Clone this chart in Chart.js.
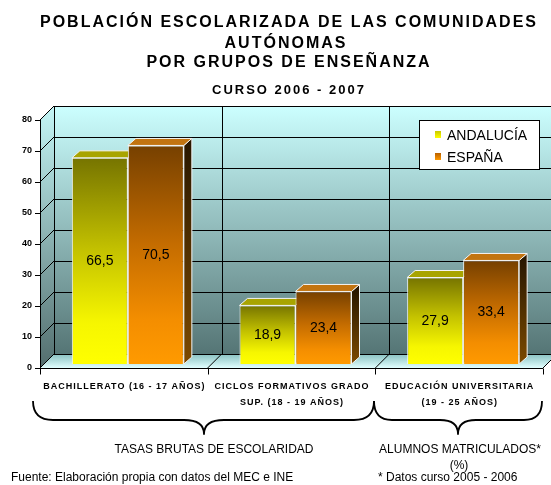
<!DOCTYPE html>
<html>
<head>
<meta charset="utf-8">
<script src="https://cdn.jsdelivr.net/npm/chart.js@4/dist/chart.umd.min.js"></script>
<style>
  html, body { margin: 0; padding: 0; background: #ffffff; }
  #wrap { position: relative; width: 551px; height: 485px; }
</style>
</head>
<body>
<div id="wrap"><canvas id="c"></canvas></div>
<script>
// ---- data ----
const categories = [
  ["BACHILLERATO (16 - 17 AÑOS)"],
  ["CICLOS FORMATIVOS GRADO", "SUP. (18 - 19 AÑOS)"],
  ["EDUCACIÓN UNIVERSITARIA", "(19 - 25 AÑOS)"]
];
const seriesNames = ["ANDALUCÍA", "ESPAÑA"];
const andalucia = [66.5, 18.9, 27.9];
const espana = [70.5, 23.4, 33.4];
const yTicks = [0, 10, 20, 30, 40, 50, 60, 70, 80];
const titleLines = ["POBLACIÓN ESCOLARIZADA DE LAS COMUNIDADES", "AUTÓNOMAS", "POR GRUPOS DE ENSEÑANZA"];
const subtitle = "CURSO 2006 - 2007";
const groupLabelLeft = "TASAS BRUTAS DE ESCOLARIDAD";
const groupLabelRight = ["ALUMNOS MATRICULADOS*", "(%)"];
const sourceNote = "Fuente: Elaboración propia con datos del MEC e INE";
const dateNote = "* Datos curso 2005 - 2006";

// ---- styling ----
const FONT = '"Liberation Sans", Arial, sans-serif';
const FRONT = { dx: -4, dy: 4 };
const BACK = { dx: 10, dy: -10 };
const BAR3D = { dx: 8, dy: -7 };
const seriesStyle = [
  { stops: [[0, '#767400'], [0.45, '#c4c200'], [0.8, '#f6f600'], [1, '#ffff00']],
    topFace: '#a8a400', side: ['#3a3800', '#8a8800'], key: ['#c8c800', '#ffff00'] },
  { stops: [[0, '#764000'], [0.45, '#c46c00'], [0.8, '#f48e00'], [1, '#ff9a00']],
    topFace: '#c27410', side: ['#2a1800', '#7c4a00'], key: ['#b86000', '#ff9900'] }
];

function fmt(v) { return v.toFixed(1).replace('.', ','); }

function barGradient(si) {
  return function (c) {
    const chart = c.chart;
    if (!chart.chartArea || c.raw === undefined) return seriesStyle[si].stops[2][1];
    const ys = chart.scales.y;
    const top = ys.getPixelForValue(c.raw), bot = ys.getPixelForValue(0);
    const g = chart.ctx.createLinearGradient(0, top, 0, bot);
    seriesStyle[si].stops.forEach(s => g.addColorStop(s[0], s[1]));
    return g;
  };
}

function line(ctx, x1, y1, x2, y2) {
  ctx.beginPath(); ctx.moveTo(x1, y1); ctx.lineTo(x2, y2); ctx.stroke();
}

function drawBrace(ctx, x0, x1, xm, yTop, yMid, yTip, r) {
  ctx.beginPath();
  ctx.moveTo(x0, yTop);
  ctx.quadraticCurveTo(x0, yMid, x0 + r, yMid);
  ctx.lineTo(xm - r, yMid);
  ctx.quadraticCurveTo(xm, yMid, xm, yTip);
  ctx.quadraticCurveTo(xm, yMid, xm + r, yMid);
  ctx.lineTo(x1 - r, yMid);
  ctx.quadraticCurveTo(x1, yMid, x1, yTop);
  ctx.stroke();
}

const scenePlugin = {
  id: 'scene',
  beforeDatasetsDraw(chart) {
    const { ctx, chartArea: a, scales: { x, y } } = chart;
    const vMax = yTicks[yTicks.length - 1];
    const fy = v => y.getPixelForValue(v) + FRONT.dy;
    const by = v => y.getPixelForValue(v) + BACK.dy;
    const fL = a.left + FRONT.dx, fR = a.right + FRONT.dx;
    const bL = a.left + BACK.dx, bR = a.right + BACK.dx;
    const n = categories.length;
    const catW = x.getPixelForValue(1) - x.getPixelForValue(0);
    const bounds = [];
    for (let k = 0; k <= n; k++) bounds.push(x.getPixelForValue(0) - catW / 2 + k * catW);

    ctx.save();
    // back wall
    let g = ctx.createLinearGradient(0, by(vMax), 0, by(0));
    g.addColorStop(0, '#ccffff'); g.addColorStop(1, '#557575');
    ctx.fillStyle = g;
    ctx.fillRect(bL, by(vMax), bR - bL, by(0) - by(vMax));
    // left wall
    g = ctx.createLinearGradient(0, by(vMax), 0, fy(0));
    g.addColorStop(0, '#c4f6f6'); g.addColorStop(1, '#536e6e');
    ctx.fillStyle = g;
    ctx.beginPath();
    ctx.moveTo(fL, fy(vMax)); ctx.lineTo(bL, by(vMax)); ctx.lineTo(bL, by(0)); ctx.lineTo(fL, fy(0));
    ctx.closePath(); ctx.fill();
    // floor
    g = ctx.createLinearGradient(0, by(0), 0, fy(0));
    g.addColorStop(0, '#88c0c0'); g.addColorStop(1, '#e2ffff');
    ctx.fillStyle = g;
    ctx.beginPath();
    ctx.moveTo(fL, fy(0)); ctx.lineTo(bL, by(0)); ctx.lineTo(bR, by(0)); ctx.lineTo(fR, fy(0));
    ctx.closePath(); ctx.fill();

    // grid
    ctx.strokeStyle = '#000'; ctx.lineWidth = 1;
    yTicks.forEach(v => {
      const yb = Math.round(by(v)) + 0.5;
      line(ctx, bL, yb, bR, yb);
      line(ctx, fL, fy(v), bL, by(v));
    });
    bounds.forEach(bx => {
      const xb = Math.round(bx + BACK.dx) + 0.5;
      line(ctx, xb, by(vMax), xb, by(0));
    });
    bounds.forEach((bx, k) => { if (k > 0) line(ctx, bx + FRONT.dx, fy(0), bx + BACK.dx, by(0)); });

    // front axes
    const fx = Math.round(fL) + 0.5, fyz = Math.round(fy(0)) + 0.5;
    line(ctx, fx, fy(vMax), fx, fyz);
    line(ctx, fL, fyz, fR, fyz);
    yTicks.forEach(v => { const t = Math.round(fy(v)) + 0.5; line(ctx, fL - 5, t, fL, t); });
    bounds.forEach(bx => { const t = Math.round(bx + FRONT.dx) + 0.5; line(ctx, t, fyz, t, fyz + 6); });

    // 3D faces of bars (drawn behind the bar fronts)
    chart.data.datasets.forEach((ds, si) => {
      const meta = chart.getDatasetMeta(si);
      meta.data.forEach(el => {
        const p = el.getProps(['x', 'y', 'base', 'width'], true);
        const l = p.x - p.width / 2, r = p.x + p.width / 2;
        ctx.strokeStyle = '#f4f4f4'; ctx.lineWidth = 1;
        const sg = ctx.createLinearGradient(0, p.y, 0, p.base);
        sg.addColorStop(0, seriesStyle[si].side[0]); sg.addColorStop(1, seriesStyle[si].side[1]);
        ctx.fillStyle = sg;
        ctx.beginPath();
        ctx.moveTo(r, p.y); ctx.lineTo(r + BAR3D.dx, p.y + BAR3D.dy);
        ctx.lineTo(r + BAR3D.dx, p.base + BAR3D.dy); ctx.lineTo(r, p.base);
        ctx.closePath(); ctx.fill(); ctx.stroke();
        ctx.fillStyle = seriesStyle[si].topFace;
        ctx.beginPath();
        ctx.moveTo(l, p.y); ctx.lineTo(l + BAR3D.dx, p.y + BAR3D.dy);
        ctx.lineTo(r + BAR3D.dx, p.y + BAR3D.dy); ctx.lineTo(r, p.y);
        ctx.closePath(); ctx.fill(); ctx.stroke();
      });
    });
    ctx.restore();
  },
  afterDatasetsDraw(chart) {
    const { ctx } = chart;
    ctx.save();
    // value labels
    ctx.fillStyle = '#000'; ctx.font = '14px ' + FONT;
    ctx.textAlign = 'center'; ctx.textBaseline = 'middle';
    chart.data.datasets.forEach((ds, si) => {
      chart.getDatasetMeta(si).data.forEach((el, i) => {
        const p = el.getProps(['x', 'y', 'base'], true);
        ctx.fillText(fmt(ds.data[i]), p.x, (p.y + p.base) / 2);
      });
    });
    // legend
    const lx = 419.5, ly = 120.5, lw = 120, lh = 49;
    ctx.fillStyle = '#fff'; ctx.fillRect(lx, ly, lw, lh);
    ctx.strokeStyle = '#000'; ctx.lineWidth = 1; ctx.strokeRect(lx, ly, lw, lh);
    ctx.font = '14px ' + FONT; ctx.textAlign = 'left'; ctx.textBaseline = 'middle';
    seriesNames.forEach((name, si) => {
      const cy = 135 + si * 22;
      const kg = ctx.createLinearGradient(0, cy - 4, 0, cy + 3);
      kg.addColorStop(0, seriesStyle[si].key[0]); kg.addColorStop(1, seriesStyle[si].key[1]);
      ctx.fillStyle = kg; ctx.fillRect(435, cy - 4, 6, 7);
      ctx.fillStyle = '#000'; ctx.fillText(name, 447, cy + 1);
    });
    ctx.restore();
  },
  afterDraw(chart) {
    const { ctx, chartArea: a, scales: { x, y } } = chart;
    ctx.save();
    ctx.fillStyle = '#000';
    // title
    ctx.textAlign = 'center'; ctx.textBaseline = 'alphabetic';
    ctx.font = 'bold 16px ' + FONT;
    if ('letterSpacing' in ctx) ctx.letterSpacing = '2px';
    ctx.fillText(titleLines[0], 289, 27);
    ctx.fillText(titleLines[1], 286, 48);
    ctx.fillText(titleLines[2], 289, 67);
    ctx.font = 'bold 13px ' + FONT;
    if ('letterSpacing' in ctx) ctx.letterSpacing = '2px';
    ctx.fillText(subtitle, 289, 94);
    // y tick labels
    if ('letterSpacing' in ctx) ctx.letterSpacing = '0px';
    ctx.font = 'bold 9px ' + FONT; ctx.textAlign = 'right'; ctx.textBaseline = 'middle';
    yTicks.forEach(v => ctx.fillText(String(v), a.left + FRONT.dx - 8, y.getPixelForValue(v) + FRONT.dy));
    // category labels
    ctx.textAlign = 'center';
    if ('letterSpacing' in ctx) ctx.letterSpacing = '1px';
    categories.forEach((lines, i) => {
      const cx = x.getPixelForValue(i) + FRONT.dx;
      lines.forEach((t, j) => ctx.fillText(t, cx + 0.5, 387 + j * 16));
    });
    if ('letterSpacing' in ctx) ctx.letterSpacing = '0px';
    // braces
    ctx.strokeStyle = '#000'; ctx.lineWidth = 1.8; ctx.lineJoin = 'round';
    drawBrace(ctx, 33, 374, 204, 401, 420, 434, 20);
    drawBrace(ctx, 374, 542, 458, 401, 420, 434, 18);
    // group labels & notes
    ctx.font = '12px ' + FONT; ctx.textBaseline = 'middle'; ctx.textAlign = 'center';
    ctx.fillText(groupLabelLeft, 214, 450);
    ctx.fillText(groupLabelRight[0], 460, 450);
    ctx.fillText(groupLabelRight[1], 459, 466);
    ctx.textAlign = 'left';
    ctx.fillText(sourceNote, 11, 478);
    ctx.fillText(dateNote, 378, 478);
    ctx.restore();
  }
};

new Chart(document.getElementById('c'), {
  type: 'bar',
  data: {
    labels: categories,
    datasets: [
      { label: seriesNames[0], data: andalucia, backgroundColor: barGradient(0),
        borderColor: '#f4f4f4', borderWidth: 1, barPercentage: 1.0, categoryPercentage: 0.668 },
      { label: seriesNames[1], data: espana, backgroundColor: barGradient(1),
        borderColor: '#f4f4f4', borderWidth: 1, barPercentage: 1.0, categoryPercentage: 0.668 }
    ]
  },
  options: {
    responsive: true,
    maintainAspectRatio: false,
    devicePixelRatio: 1,
    animation: false,
    layout: { padding: { left: 44, right: 4, top: 116, bottom: 121 } },
    scales: {
      x: { display: false },
      y: { display: false, min: 0, max: 80, ticks: { stepSize: 10 } }
    },
    plugins: { legend: { display: false }, title: { display: false }, tooltip: { enabled: false } }
  },
  plugins: [scenePlugin]
});
</script>
</body>
</html>
